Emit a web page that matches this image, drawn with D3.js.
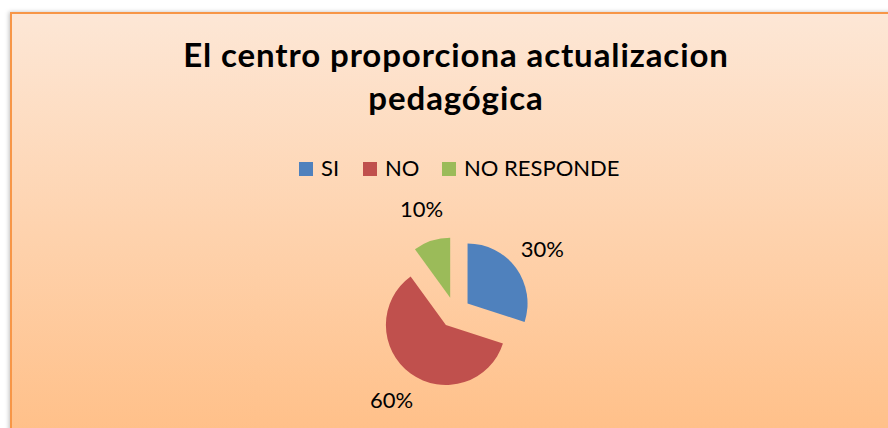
<!DOCTYPE html>
<html>
<head>
<meta charset="utf-8">
<script src="https://cdn.jsdelivr.net/npm/d3@7"></script>
<style>
  body { margin: 0; background: #fff; }
  text { font-family: Lato, "Open Sans", sans-serif; fill: #000; }
</style>
</head>
<body>
<script>
// valores del grafico
var categorias = ["SI", "NO", "NO RESPONDE"];
var valores = [30, 60, 10];
var etiquetas = ["30%", "60%", "10%"];
var colores = ["#4F81BD", "#C0504D", "#9BBB59"];
var titulo = ["El centro proporciona actualizacion", "pedagógica"];

var width = 888, height = 428;

var svg = d3.select("body").append("svg")
            .attr("width", width)
            .attr("height", height);

var defs = svg.append("defs");
var grad = defs.append("linearGradient")
               .attr("id", "fondo")
               .attr("x1", 0).attr("y1", 0)
               .attr("x2", 0).attr("y2", 1);
grad.append("stop").attr("offset", "0%").attr("stop-color", "#FDE7D6");
grad.append("stop").attr("offset", "100%").attr("stop-color", "#FFBE85");

var sombra = defs.append("filter").attr("id", "sombra")
                 .attr("x", "-5%").attr("y", "-5%").attr("width", "110%").attr("height", "110%");
sombra.append("feDropShadow").attr("dx", -1).attr("dy", 0)
      .attr("stdDeviation", 2).attr("flood-color", "#000").attr("flood-opacity", 0.25);

// marco
svg.append("rect")
   .attr("x", 11).attr("y", 13)
   .attr("width", 900).attr("height", 440)
   .attr("fill", "url(#fondo)")
   .attr("stroke", "#F79646")
   .attr("stroke-width", 2)
   .attr("filter", "url(#sombra)");

// titulo
svg.append("text")
   .attr("x", 456).attr("y", 67)
   .attr("text-anchor", "middle")
   .style("font-weight", "bold")
   .style("font-size", "33px")
   .style("letter-spacing", "0.9px")
   .selectAll("tspan")
   .data(titulo)
   .enter()
   .append("tspan")
   .attr("x", 456)
   .attr("dy", function (d, i) { return i === 0 ? 0 : 43; })
   .text(function (d) { return d; });

// leyenda
var leyendaX = [299, 363, 442];
var leyenda = svg.selectAll(".leyenda")
                 .data(categorias)
                 .enter()
                 .append("g")
                 .attr("class", "leyenda")
                 .attr("transform", function (d, i) { return "translate(" + leyendaX[i] + ",162)"; });

leyenda.append("rect")
       .attr("width", 14).attr("height", 14)
       .attr("fill", function (d, i) { return colores[i]; });

leyenda.append("text")
       .attr("x", 22).attr("y", 14)
       .style("font-size", "22px")
       .text(function (d) { return d; });

// pastel
var radio = 60, separacion = 15.5;
var cx = 455, cy = 312.5;

var pie = d3.pie().sort(null).value(function (d) { return d; });
var arcos = pie(valores);
var arc = d3.arc().innerRadius(0).outerRadius(radio);
var arcEtiqueta = d3.arc().innerRadius(108).outerRadius(108);

var g = svg.append("g").attr("transform", "translate(" + cx + "," + cy + ")");

g.selectAll("path")
 .data(arcos)
 .enter()
 .append("path")
 .attr("d", arc)
 .attr("fill", function (d, i) { return colores[i]; })
 .attr("transform", function (d) {
   var a = (d.startAngle + d.endAngle) / 2;
   return "translate(" + (Math.sin(a) * separacion) + "," + (-Math.cos(a) * separacion) + ")";
 });

g.selectAll(".etiqueta")
 .data(arcos)
 .enter()
 .append("text")
 .attr("class", "etiqueta")
 .attr("transform", function (d) { return "translate(" + arcEtiqueta.centroid(d) + ")"; })
 .attr("text-anchor", "middle")
 .attr("dy", "0.35em")
 .style("font-size", "22px")
 .text(function (d, i) { return etiquetas[i]; });
</script>
</body>
</html>
